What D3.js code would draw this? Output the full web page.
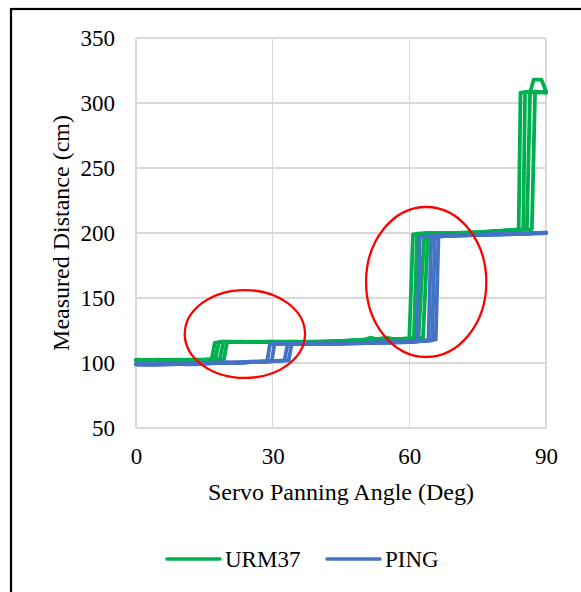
<!DOCTYPE html>
<html>
<head>
<meta charset="utf-8">
<script src="https://cdn.jsdelivr.net/npm/d3@7"></script>
<style>
  html, body { margin: 0; padding: 0; background: #fff; }
  svg { display: block; }
</style>
</head>
<body>
<svg id="chart" width="581" height="592"></svg>
<script>
// Servo sweep: measured distance vs. panning angle, several sweeps per sensor.
const xTicks = [0, 30, 60, 90];
const yTicks = [50, 100, 150, 200, 250, 300, 350];

// URM37 sweeps, [angle (deg), distance (cm)]
const urm37Sweep1 = [[0,102],[4,102],[8,102.5],[12,102],[15,102.5],[16.6,103],[17.3,115.5],[19,116.5],[22,116],[26,116.5],[30,116],[34,116],[38,116.5],[42,116.5],[46,117],[50,117.5],[51.5,119.5],[53,118],[56,118],[58,118.5],[60,119],[60.8,199],[64,200],[68,199.5],[72,200],[76,200.5],[80,201.5],[84,202.5],[84.4,308],[87,308.5],[90,308]];
const urm37Sweep2 = [[0,102],[5,102.5],[9,102],[13,102.5],[16,102.5],[17.4,103],[18.2,116],[21,116.5],[25,116],[29,116.5],[33,116],[37,116],[41,116.5],[45,117],[49,117.5],[52,118],[55,119.5],[57,118],[59.5,118.5],[61,119],[61.7,199.5],[65,199.5],[69,200],[73,200],[77,201],[81,202],[85,203],[85.4,308.5],[88,308],[90,308.5]];
const urm37Sweep3 = [[0,102.5],[4,102],[8,102],[12,102.5],[16,102],[18.4,103],[19.2,116.5],[22,116],[26,116],[30,116.5],[34,116.5],[38,116],[42,116.5],[46,117],[50,118],[54,118],[58,118.5],[62,119],[63.3,199],[66,199.5],[70,200],[74,200.5],[78,201],[82,202],[85.8,203],[86.5,308],[87.3,318],[89,318],[90,309]];
const urm37Sweep4 = [[0,102],[5,102],[10,102.5],[14,102],[17,102.5],[19.3,103],[20,116],[23,116.5],[27,116],[31,116],[35,116.5],[39,116],[43,116.5],[47,117],[51,117.5],[55,118],[59,118.5],[63,119.5],[64.1,199.5],[67,200],[71,200],[75,200.5],[79,201.5],[83,202],[86.9,203],[87.6,309],[90,308]];

// PING sweeps, [angle (deg), distance (cm)]
const pingSweep1 = [[0,99],[3,98.5],[6,99],[9,99.5],[12,99],[15,99.5],[18,100],[21,100],[24,100.5],[27,101],[28.8,101.5],[29.4,114.5],[32,114.5],[36,114.5],[40,115],[44,115],[48,115],[52,115.5],[56,115.5],[60,116],[61.7,116.5],[62.3,197],[66,198],[70,198],[74,198.5],[78,199],[82,199],[86,199.5],[90,200]];
const pingSweep2 = [[0,99],[4,99],[8,99.5],[11,99],[14,99.5],[17,100],[20,100.5],[23,100],[26,101],[29,101],[29.8,101.5],[30.4,115],[33,114.5],[37,114.5],[41,115],[45,115],[49,115.5],[53,115.5],[57,116],[61,116.5],[64.2,117],[64.8,197.5],[68,198],[72,198],[76,198.5],[80,199],[84,199.5],[88,200],[90,200]];
const pingSweep3 = [[0,99.5],[3,99],[7,99],[10,99.5],[13,99],[16,100],[19,100.5],[22,100.5],[25,101],[28,101],[32.6,102],[33.3,115],[36,114.5],[40,115],[44,115],[48,115.5],[52,115.5],[56,116],[60,116.5],[63,117],[65,117.5],[65.6,197],[69,198],[73,198.5],[77,198.5],[81,199],[85,199.5],[90,200]];
const pingSweep4 = [[0,99],[4,99],[8,99],[12,99.5],[16,100],[20,100],[24,100.5],[28,101],[31,101.5],[33.5,102],[34.2,115],[37,115],[41,115],[45,115],[49,115.5],[53,116],[57,116],[61,116.5],[64,117.5],[65.8,118],[66.4,197.5],[70,198],[74,198.5],[78,199],[82,199.5],[86,199.5],[90,200.5]];

// Highlighted transition regions: [centre angle, centre distance, half-width (deg), half-height (cm)]
const highlightRegions = [[23.9, 122.3, 13.2, 33.8], [63.7, 162.3, 13.2, 57.7]];

const legendItems = ["URM37", "PING"];
const colors = { URM37: "#00b050", PING: "#4472c4" };
const serifFont = "\"Liberation Serif\", \"Times New Roman\", serif";

const series = [
  { name: "URM37", runs: [urm37Sweep1, urm37Sweep2, urm37Sweep3, urm37Sweep4] },
  { name: "PING",  runs: [pingSweep1, pingSweep2, pingSweep3, pingSweep4] }
];

const svg = d3.select("#chart");
const plot = { left: 136, right: 546, top: 38, bottom: 428 };

const x = d3.scaleLinear().domain([0, 90]).range([plot.left, plot.right]);
const y = d3.scaleLinear().domain([50, 350]).range([plot.bottom, plot.top]);

// outer frame
svg.append("rect")
  .attr("x", 11).attr("y", 9)
  .attr("width", 620).attr("height", 620)
  .attr("fill", "none").attr("stroke", "#000").attr("stroke-width", 2.2);

// gridlines
const grid = svg.append("g").attr("stroke", "#d9d9d9").attr("stroke-width", 1.3).attr("shape-rendering", "crispEdges");
grid.selectAll("line.h").data(yTicks).join("line")
  .attr("x1", plot.left).attr("x2", plot.right)
  .attr("y1", d => y(d)).attr("y2", d => y(d));
grid.selectAll("line.v").data(xTicks).join("line")
  .attr("y1", plot.top).attr("y2", plot.bottom)
  .attr("x1", d => x(d)).attr("x2", d => x(d));

// axes (labels only, lines drawn as grid)
const yAxis = d3.axisLeft(y).tickValues(yTicks).tickSize(0).tickPadding(21);
const xAxis = d3.axisBottom(x).tickValues(xTicks).tickSize(0).tickPadding(20);
const gy = svg.append("g").attr("transform", `translate(${plot.left},0)`).call(yAxis);
const gx = svg.append("g").attr("transform", `translate(0,${plot.bottom})`).call(xAxis);
[gx, gy].forEach(g => {
  g.select(".domain").remove();
  g.selectAll("text").style("font-family", serifFont).style("font-size", "23px").attr("fill", "#000");
});

// data lines
const line = d3.line().x(d => x(d[0])).y(d => y(d[1]));
series.forEach(s => {
  svg.append("g").selectAll("path").data(s.runs).join("path")
    .attr("d", line)
    .attr("fill", "none")
    .attr("stroke", colors[s.name])
    .attr("stroke-width", 3.8)
    .attr("stroke-linejoin", "round")
    .attr("stroke-linecap", "round");
});

// highlight ellipses
svg.append("g").selectAll("ellipse").data(highlightRegions).join("ellipse")
  .attr("cx", d => x(d[0]))
  .attr("cy", d => y(d[1]))
  .attr("rx", d => x(d[2]) - x(0))
  .attr("ry", d => y(0) - y(d[3]))
  .attr("fill", "none").attr("stroke", "#ff0000").attr("stroke-width", 2.3);

// axis titles
svg.append("text")
  .attr("x", (plot.left + plot.right) / 2).attr("y", 500)
  .attr("text-anchor", "middle")
  .style("font-family", serifFont).style("font-size", "24px")
  .text("Servo Panning Angle (Deg)");
svg.append("text")
  .attr("transform", `translate(69,${(plot.top + plot.bottom) / 2}) rotate(-90)`)
  .attr("text-anchor", "middle")
  .style("font-family", serifFont).style("font-size", "24px")
  .text("Measured Distance (cm)");

// legend
const legendX = [167, 327];
const lg = svg.append("g").selectAll("g").data(legendItems).join("g")
  .attr("transform", (d, i) => `translate(${legendX[i]},559)`);
lg.append("line").attr("x1", 0).attr("x2", 53).attr("y1", 0).attr("y2", 0)
  .attr("stroke", d => colors[d]).attr("stroke-width", 3.5).attr("stroke-linecap", "round");
lg.append("text").attr("x", 58).attr("y", 8)
  .style("font-family", serifFont).style("font-size", "23px").text(d => d);
</script>
</body>
</html>
